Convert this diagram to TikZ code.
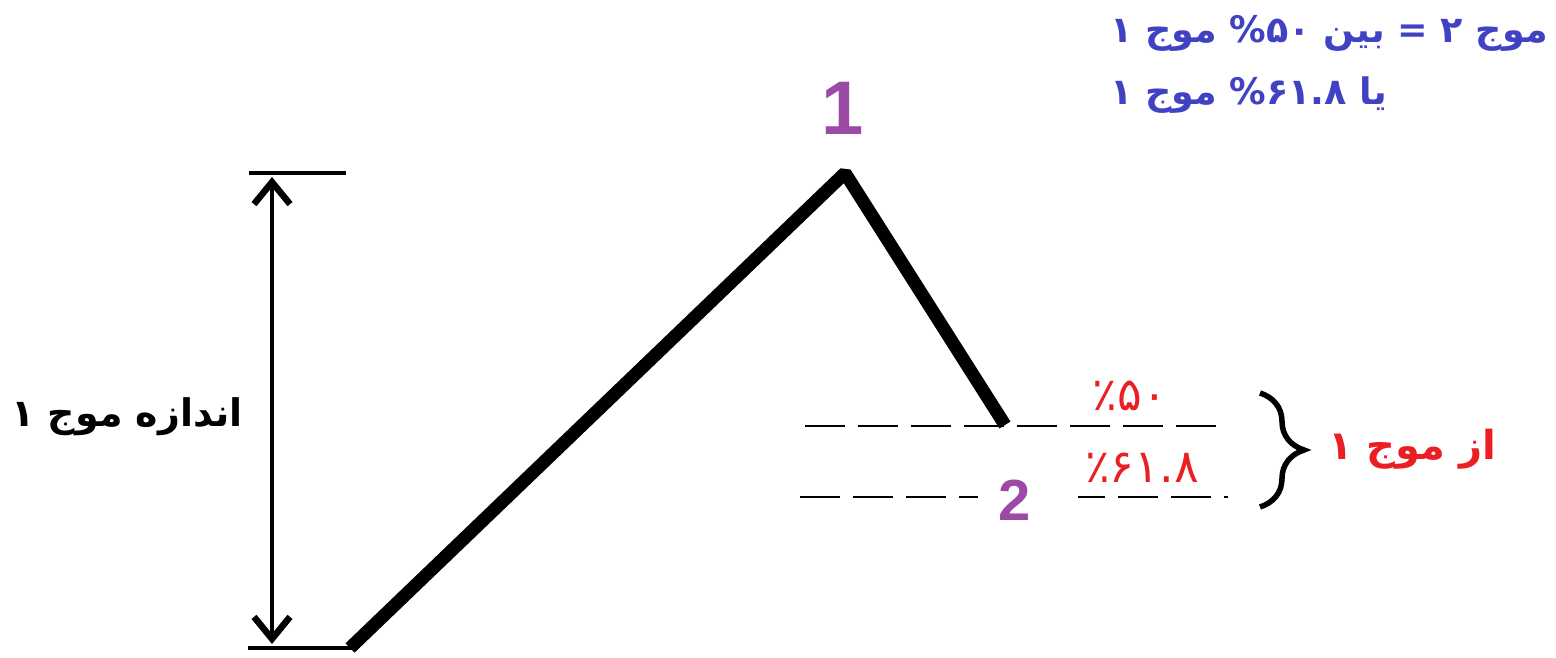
\documentclass[tikz,border=0pt]{standalone}
\usepackage{fontspec}
\setmainfont{Liberation Sans}
\newfontfamily\arabicfont[Script=Arabic]{DejaVu Sans}
\TeXXeTstate=1
\usetikzlibrary{arrows.meta,decorations.pathreplacing}
\definecolor{wavepurple}{RGB}{155,75,165}
\definecolor{noteblue}{RGB}{65,65,195}
\definecolor{notered}{RGB}{235,30,35}
\tikzset{
  wave/.style={line width=13pt, line join=bevel},
  bar/.style={line width=4pt},
  measure/.style={line width=4pt, {Straight Barb[length=22pt,width=36pt,line width=6.5pt]}-{Straight Barb[length=22pt,width=36pt,line width=6.5pt]}},
  level/.style={line width=2.5pt, dash pattern=on 40pt off 13pt},
  wavenum/.style={text=wavepurple, font=\bfseries\fontsize{76}{80}\selectfont, inner sep=0pt},
  pct/.style={text=notered, font=\arabicfont\fontsize{46}{50}\selectfont, inner sep=0pt},
  note/.style={text=noteblue, font=\arabicfont\bfseries\fontsize{36.5}{40}\selectfont, inner sep=0pt, anchor=west},
}
\begin{document}
\begin{tikzpicture}[x=1pt,y=1pt]
\useasboundingbox (0,0) rectangle (1556,657);
\fill[white] (0,0) rectangle (1556,657);
% level lines
\coordinate (l1a) at (805,231);
\coordinate (l1b) at (1228,231);
\coordinate (l2a) at (800,160);
\coordinate (l2b) at (1228,160);
\draw[level] (l1a) -- (l1b);
\draw[level] (l2a) -- (l2b);
\fill[white] (978,135) rectangle (1078,182);
% wave
\coordinate (w0) at (350,9);
\coordinate (w1) at (845,484);
\coordinate (w2) at (1005,232);
\draw[wave] (w0) -- (w1) -- (w2);
% size bars and arrow
\coordinate (tb0) at (249,484);
\coordinate (tb1) at (346,484);
\coordinate (bb0) at (248,9);
\coordinate (bb1) at (352,9);
\draw[bar] (tb0) -- (tb1);
\draw[bar] (bb0) -- (bb1);
\coordinate (ar0) at (272,480);
\coordinate (ar1) at (272,13);
\draw[measure] (ar0) -- (ar1);
% labels
\node[font=\arabicfont\bfseries\fontsize{38}{44}\selectfont, inner sep=0pt] (size) at (127,240) {\beginR اندازه موج ۱\endR};
\node[wavenum] (n1) at (843,549) {1};
\node[wavenum, font=\bfseries\fontsize{58}{62}\selectfont] (n2) at (1015,157) {2};
\node[pct] (p50) at (1130,261) {٪۵۰};
\node[pct] (p618) at (1142,189) {٪۶۱.۸};
\coordinate (br0) at (1260,264);
\coordinate (br1) at (1260,150);
\draw[line width=5.5pt, decorate, decoration={brace, amplitude=44pt}] (br0) -- (br1);
\node[pct, font=\arabicfont\bfseries\fontsize{40}{44}\selectfont] (az) at (1412,208) {\beginR از موج ۱\endR};
\node[note] (note1) at (1110,624) {\beginR موج ۲ = بین \%۵۰ موج ۱\endR};
\node[note] (note2) at (1110,562) {\beginR یا \%۶۱.۸ موج ۱\endR};
\end{tikzpicture}
\end{document}
